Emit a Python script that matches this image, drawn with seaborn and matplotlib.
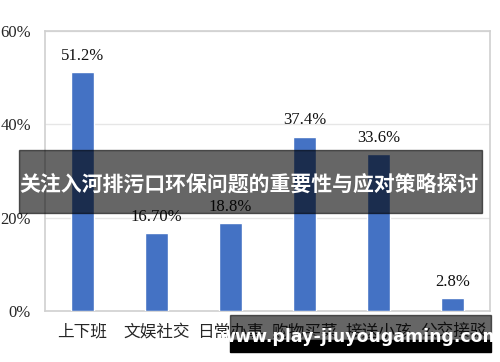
import matplotlib
matplotlib.use("Agg")
import matplotlib.pyplot as plt
import seaborn as sns
import pandas as pd
from matplotlib.patches import Rectangle

categories = ["上下班", "文娱社交", "日常办事", "购物买菜", "接送小孩", "公交接驳"]
values = [51.2, 16.7, 18.8, 37.4, 33.6, 2.8]
value_labels = ["51.2%", "16.70%", "18.8%", "37.4%", "33.6%", "2.8%"]
yticks = [0, 20, 40, 60]
ytick_labels = ["0%", "20%", "40%", "60%"]
banner_text = "关注入河排污口环保问题的重要性与应对策略探讨"
watermark_text = "www.play-jiuyougaming.com"

sns.set_theme(style="white")
plt.rcParams['font.family'] = ['Noto Sans CJK SC', 'DejaVu Sans']

df = pd.DataFrame({"cat": categories, "val": values})

fig = plt.figure(figsize=(5, 3.62), dpi=100)
ax = fig.add_axes([0.09, 0.141, 0.89, 0.773])
sns.barplot(data=df, x="cat", y="val", color="#4472C4", width=0.31,
            saturation=1, ax=ax, zorder=3)
ax.set_ylim(0, 60)
ax.set_xlim(-0.5, len(categories) - 0.5)
ax.set_yticks(yticks)
ax.set_yticklabels(ytick_labels, family="Liberation Serif", fontsize=12)
ax.tick_params(axis="y", length=0, pad=10)
ax.tick_params(axis="x", length=0, pad=9, labelsize=12)
ax.set_xlabel("")
ax.set_ylabel("")
ax.yaxis.grid(True, color="#e6e6e6", linewidth=1, zorder=0)
for s in ax.spines.values():
    s.set_color("#d0d0d0")
    s.set_linewidth(1.2)

ax.bar_label(ax.containers[0], labels=value_labels, padding=6,
             family="Liberation Serif", fontsize=12, color="#111111")

# overlay banner
fig.patches.append(Rectangle((19 / 500, 1 - 213 / 362), 463 / 500, 63 / 362,
                             transform=fig.transFigure, color="black",
                             alpha=0.6, zorder=10))
fig.text(249 / 500, 1 - 184 / 362, banner_text, color="white", fontsize=15,
         fontweight="bold", ha="center", va="center", zorder=11)

# watermark
fig.patches.append(Rectangle((230 / 500, 1 - 340 / 362), 261 / 500, 25 / 362,
                             transform=fig.transFigure, color="black",
                             alpha=0.6, zorder=10))
fig.patches.append(Rectangle((230 / 500, 1 - 352 / 362), 261 / 500, 12 / 362,
                             transform=fig.transFigure, color="black",
                             alpha=1.0, zorder=10))
fig.text(360 / 500, 1 - 337 / 362, watermark_text, color="white",
         fontsize=12.5, fontweight="bold", ha="center", va="center",
         family="DejaVu Sans", zorder=11)

fig.savefig("out.png", dpi=100)
